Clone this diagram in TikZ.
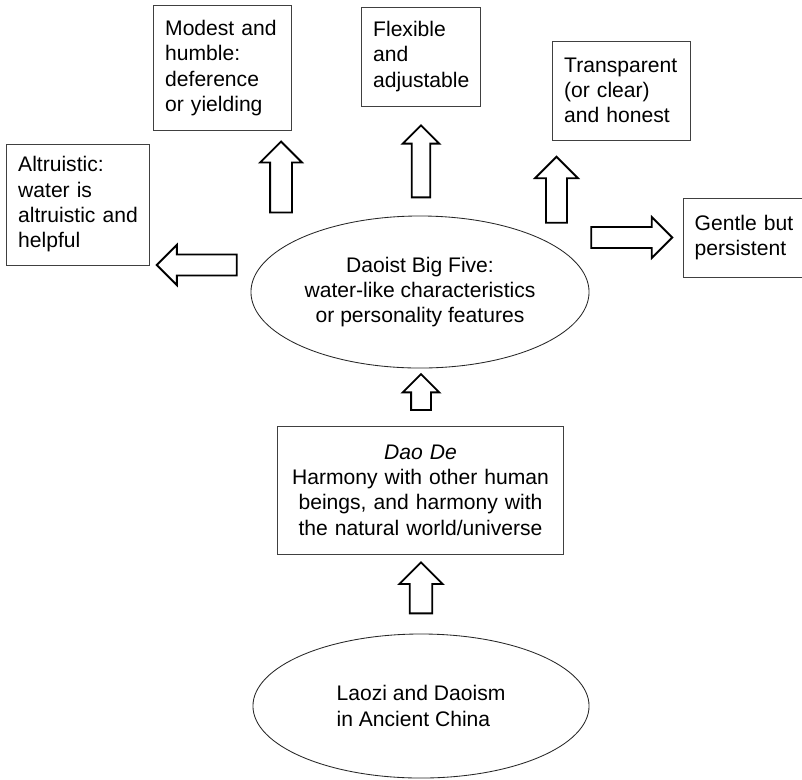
\documentclass[tikz,border=0pt]{standalone}
\usepackage{fontspec}
\setmainfont{Liberation Sans}
\usepackage{tikz}
\usetikzlibrary{positioning,shapes,arrows}

\tikzset{
  trait/.style={draw=black!75, line width=0.7pt, align=left, inner xsep=0.28cm,
    font=\fontsize{15}{18}\selectfont},
  oval/.style={ellipse, draw=black!85, line width=0.6pt, align=center, inner sep=0,
    font=\fontsize{15}{18}\selectfont},
  bigarrow/.style={single arrow, draw, line width=1.3pt, inner sep=0.24cm, fill=white}
}

\begin{document}
\begin{tikzpicture}[x=0.025cm, y=-0.025cm]
  \clip (0,0) rectangle (802,779);
  \fill[white] (0,0) rectangle (802,779);

  % centre of the picture
  \node[oval, minimum width=8.45cm, minimum height=3.8cm] (five) at (420,292)
       {Daoist Big Five:\\water-like characteristics\\or personality features};

  % five characteristics
  \node[trait, text width=2.865cm, minimum height=3.1cm] (modest) at (222.5,68)
       {Modest and\\humble:\\deference\\or yielding};
  \node[trait, text width=2.39cm, minimum height=2.475cm] (flex) at (421,56.5)
       {Flexible\\and\\adjustable};
  \node[trait, text width=2.865cm, minimum height=2.475cm] (transp) at (621.5,90.5)
       {Transparent\\(or clear)\\and honest};
  \node[trait, text width=2.99cm, minimum height=3.025cm] (altru) at (78,204.5)
       {Altruistic:\\water is\\altruistic and\\helpful};
  \node[trait, text width=3cm, minimum height=1.975cm, anchor=west] (gentle) at (683,237.5)
       {Gentle but\\persistent};

  % roots
  \node[trait, align=center, text width=6.565cm, minimum height=3.2cm] (daode) at (420.5,490)
       {\textit{Dao De}\\Harmony with other human\\beings, and harmony with\\the natural world/universe};
  \node[oval, align=left, minimum width=8.4cm, minimum height=3.6cm] (laozi) at (421,706)
       {Laozi and Daoism\\ in Ancient China};

  % block arrows
  \node[bigarrow, shape border rotate=90, minimum height=1.775cm, minimum width=1cm,
        inner sep=0.25cm, single arrow head extend=0.25cm] (upmodest) at (281,182.5) {};
  \node[bigarrow, shape border rotate=90, minimum height=1.8cm, minimum width=0.875cm,
        inner sep=0.21cm, single arrow head extend=0.225cm] (upflex) at (421,166) {};
  \node[bigarrow, shape border rotate=90, minimum height=1.65cm, minimum width=1.025cm,
        inner sep=0.24cm, single arrow head extend=0.275cm] (uptransp) at (556.5,195) {};
  \node[bigarrow, minimum height=2.025cm, minimum width=0.975cm,
        inner sep=0.24cm, single arrow head extend=0.25cm] (togentle) at (626.5,237.5) {};
  \node[bigarrow, shape border rotate=180, minimum height=2cm, minimum width=0.95cm,
        inner sep=0.24cm, single arrow head extend=0.24cm] (toaltru) at (202,265) {};
  \node[bigarrow, shape border rotate=90, minimum height=0.9cm, minimum width=0.875cm,
        inner sep=0.225cm, single arrow head extend=0.21cm] (upfive) at (421,397) {};
  \node[bigarrow, shape border rotate=90, minimum height=1.275cm, minimum width=1.05cm,
        inner sep=0.26cm, single arrow head extend=0.26cm] (updaode) at (421,593.5) {};
\end{tikzpicture}
\end{document}
